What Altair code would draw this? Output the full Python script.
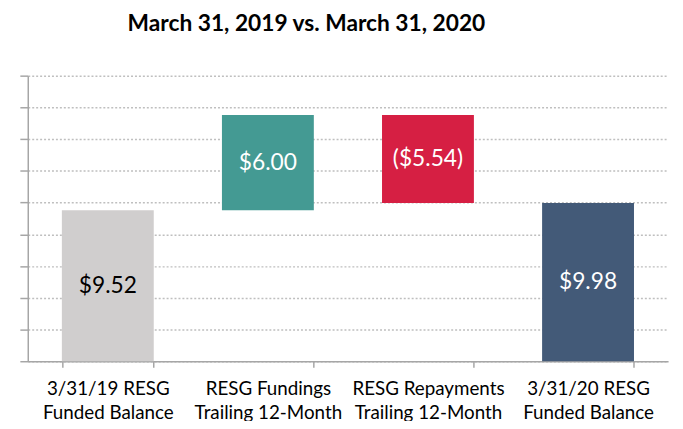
import altair as alt
import pandas as pd

categories = ["3/31/19 RESG|Funded Balance", "RESG Fundings|Trailing 12-Month",
              "RESG Repayments|Trailing 12-Month", "3/31/20 RESG|Funded Balance"]
amounts = [9.52, 6.00, -5.54, 9.98]
kinds = ["total", "delta", "delta", "total"]
labels = ["$9.52", "$6.00", "($5.54)", "$9.98"]
colors = ["#D0CECE", "#449A93", "#D61F43", "#435A78"]
text_colors = ["#000000", "#FFFFFF", "#FFFFFF", "#FFFFFF"]
y_ticks = [0, 2, 4, 6, 8, 10, 12, 14, 16, 18]

starts, ends = [], []
running = 0.0
for a, k in zip(amounts, kinds):
    if k == "total":
        starts.append(0.0)
        ends.append(a)
        running = a
    else:
        starts.append(running)
        running = running + a
        ends.append(running)

df = pd.DataFrame({
    "cat": categories, "start": starts, "end": ends, "label": labels,
    "mid": [(s + e) / 2 for s, e in zip(starts, ends)],
    "tcolor": text_colors,
})

FONT = "Lato"

x_axis = alt.Axis(labelExpr="split(datum.label, '|')", labelAngle=0,
                  labelFontSize=19, labelColor="#000000", labelFont=FONT,
                  labelLineHeight=24, labelPadding=13,
                  tickBand="extent", tickSize=6, tickColor="#A6A6A6",
                  tickWidth=1.5,
                  domainColor="#A6A6A6", domainWidth=1.5, grid=False)
x_scale = alt.Scale(paddingInner=0.426, paddingOuter=0.213)

y_axis = alt.Axis(values=y_ticks, labels=False, tickSize=8,
                  tickColor="#A6A6A6", domainColor="#A6A6A6", domainWidth=1.5,
                  tickWidth=1.5, grid=True, gridColor="#BFBFBF",
                  gridDash=[2, 2], gridWidth=1.5)
y_scale = alt.Scale(domain=[0, 18], nice=False)

bars = alt.Chart(df).mark_bar().encode(
    x=alt.X("cat:N", sort=categories, title=None, scale=x_scale, axis=x_axis),
    y=alt.Y("start:Q", scale=y_scale, title=None, axis=y_axis),
    y2="end:Q",
    color=alt.Color("cat:N", sort=categories, legend=None,
                    scale=alt.Scale(domain=categories, range=colors)),
)

text = alt.Chart(df).mark_text(fontSize=23, font=FONT).encode(
    x=alt.X("cat:N", sort=categories, title=None, scale=x_scale, axis=x_axis),
    y=alt.Y("mid:Q", scale=y_scale, title=None, axis=y_axis),
    text="label:N",
    color=alt.Color("tcolor:N", scale=None),
)

chart = (bars + text).properties(
    width=648, height=289,
    autosize=alt.AutoSizeParams(type="none"),
    padding={"left": 20, "top": 66, "right": 7, "bottom": 58},
    title=alt.TitleParams("March 31, 2019 vs. March 31, 2020", fontSize=23,
                          fontWeight="bold", font=FONT, color="#000000",
                          anchor="middle", dx=-42, offset=39),
).configure_view(stroke=None)

chart.save("out.html", embed_options={"renderer": "svg", "actions": False})
